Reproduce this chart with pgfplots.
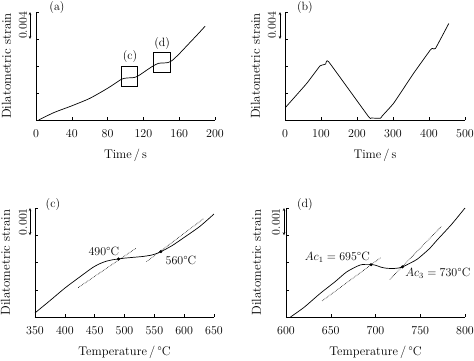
\documentclass[12pt,border=0pt]{standalone}
\usepackage{pgfplots}
\pgfplotsset{compat=1.18}
\usetikzlibrary{arrows.meta}
\begin{document}
\begin{tikzpicture}[font=\fontsize{12}{14}\selectfont]
\useasboundingbox (0pt,0pt) rectangle (474pt,360pt);
\pgfplotsset{
  every axis/.append style={
    scale only axis, width=179pt, height=108pt,
    axis lines=left, axis line style={-, line width=0.6pt},
    tick style={line width=0.5pt, black},
    major tick length=3pt,
    tick align=inside,
    yticklabels={},
    clip=false,
    ylabel={Dilatometric strain},
    ylabel style={at={(axis description cs:-0.165,0.5)}, anchor=center, font=\fontsize{13}{15}\selectfont},
    xlabel style={at={(axis description cs:0.5,-0.325)}, anchor=center, font=\fontsize{12.5}{15}\selectfont},
    x tick label style={yshift=-5pt, font=\fontsize{12}{14}\selectfont},
    /pgf/number format/assume math mode=true,
    /pgf/number format/1000 sep={},
  },
  curve/.style={black, line width=0.7pt, smooth, tension=0.4, no marks},
  tang/.style={black, densely dotted, line width=0.6pt, no marks},
}
%% (a)
\begin{axis}[at={(36pt,240pt)}, anchor=south west,
  xmin=0, xmax=200, ymin=0, ymax=16, xtick={0,40,...,200}, ytick={0,4,8,12,16},
  xlabel={Time\,/\,s}]
\addplot[curve] coordinates {(3,0) (20,1.1) (40,2.1) (60,3.2) (80,4.7) (95,6.0) (100,6.2) (105,6.25) (110,6.3) (115,6.6) (125,7.5) (132,8.1) (137,8.4) (142,8.45) (147,8.5) (152,8.8) (160,9.8) (170,11.2) (180,12.6) (189,13.9)};
\draw[line width=0.6pt] (axis cs:95,5) rectangle (axis cs:113,8);
\draw[line width=0.6pt] (axis cs:131.5,7) rectangle (axis cs:150,10);
\node at (axis cs:105,9.4) {(c)};
\node at (axis cs:141,11.4) {(d)};
\node at (axis description cs:0.117,1.046) {(a)};
\draw[{Stealth[length=3pt,width=2.5pt]}-{Stealth[length=3pt,width=2.5pt]}, line width=0.5pt] ([xshift=-6pt]axis cs:0,16) -- ([xshift=-6pt]axis cs:0,12);
\node[rotate=90] at ([xshift=-13pt]axis cs:0,14) {0.004};
\end{axis}
%% (b)
\begin{axis}[at={(285pt,240pt)}, anchor=south west, width=180pt,
  xmin=0, xmax=500, ymin=0, ymax=16, xtick={0,100,...,500}, ytick={0,4,8,12,16},
  xlabel={Time\,/\,s}]
\addplot[curve, tension=0.2] coordinates {(2,1.9) (60,5.4) (97,8.0) (108,8.2) (113,8.3) (121,8.65) (232,0.5) (240,0.3) (265,0.25) (270,0.6) (302,2.5) (357,6.9) (404,10.4) (410,10.6) (418,10.6) (455,14.3)};
\node at (axis description cs:0.111,1.046) {(b)};
\draw[{Stealth[length=3pt,width=2.5pt]}-{Stealth[length=3pt,width=2.5pt]}, line width=0.5pt] ([xshift=-5pt]axis cs:0,16) -- ([xshift=-5pt]axis cs:0,12);
\node[rotate=90] at ([xshift=-13pt]axis cs:0,14) {0.004};
\end{axis}
%% (c)
\begin{axis}[at={(35pt,43pt)}, anchor=south west, height=109pt,
  xmin=350, xmax=650, ymin=0, ymax=4, xtick={350,400,...,650}, ytick={0,1,2,3,4},
  xlabel={Temperature\,/\,°C}]
\addplot[curve] coordinates {(350,0.15) (375,0.6) (400,1.06) (425,1.47) (447,1.82) (460,1.97) (470,2.05) (480,2.10) (490,2.13) (500,2.16) (515,2.19) (530,2.22) (545,2.27) (555,2.34) (561,2.40) (570,2.50) (582,2.65) (600,2.92) (626,3.32) (650,3.78)};
\addplot[tang] coordinates {(422.5,1.08) (519,2.52)};
\addplot[tang] coordinates {(537,2.03) (632,3.6)};
\addplot[only marks, mark=*, mark size=1.3pt, black] coordinates {(490,2.13) (561,2.40)};
\node[anchor=east, inner sep=1pt] at (axis cs:493,2.42) {490°C};
\node[anchor=west, inner sep=1pt] at (axis cs:567,2.09) {560°C};
\node at (axis description cs:0.10,1.03) {(c)};
\draw[{Stealth[length=3pt,width=2.5pt]}-{Stealth[length=3pt,width=2.5pt]}, line width=0.5pt] ([xshift=-5pt]axis cs:350,4) -- ([xshift=-5pt]axis cs:350,3);
\node[rotate=90] at ([xshift=-12pt]axis cs:350,3.5) {0.001};
\end{axis}
%% (d)
\begin{axis}[at={(286pt,43pt)}, anchor=south west, height=109pt,
  xmin=600, xmax=800, ymin=0, ymax=4, xtick={600,650,...,800}, ytick={0,1,2,3,4},
  xlabel={Temperature\,/\,°C}]
\addplot[curve] coordinates {(605,0) (620,0.35) (638,0.86) (655,1.3) (668,1.66) (683,1.91) (694,1.93) (700,1.9) (706,1.83) (712,1.79) (720,1.78) (726,1.8) (731,1.85) (740,2.0) (747,2.13) (760,2.5) (769,2.83) (785,3.4) (800,4.0)};
\addplot[tang] coordinates {(640.3,0.59) (706.3,2.19)};
\addplot[tang] coordinates {(716,1.38) (773.5,3.32)};
\addplot[only marks, mark=*, mark size=1.3pt, black] coordinates {(695,1.92) (730,1.84)};
\node[anchor=east, inner sep=1pt] at (axis cs:695,2.2) {$Ac_1=695$°C};
\node[anchor=west, inner sep=1pt] at (axis cs:732,1.6) {$Ac_3=730$°C};
\node at (axis description cs:0.106,1.03) {(d)};
\draw[{Stealth[length=3pt,width=2.5pt]}-{Stealth[length=3pt,width=2.5pt]}, line width=0.5pt] ([xshift=-2pt]axis cs:600,4) -- ([xshift=-2pt]axis cs:600,3);
\node[rotate=90] at ([xshift=-10pt]axis cs:600,3.5) {0.001};
\end{axis}
\end{tikzpicture}
\end{document}
